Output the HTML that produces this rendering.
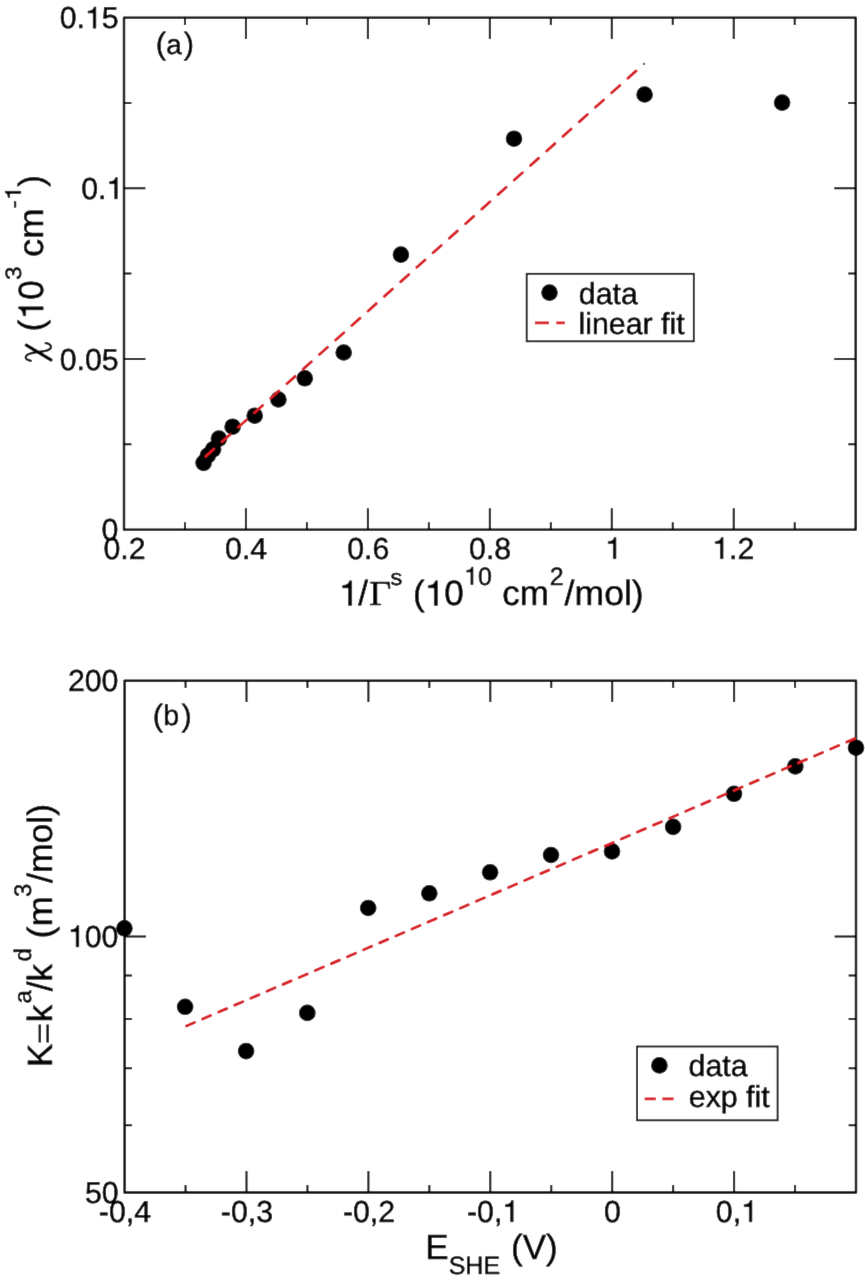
<!DOCTYPE html>
<html><head><meta charset="utf-8"><style>
html,body{margin:0;padding:0;background:#fff;width:865px;height:1280px;overflow:hidden}
svg{display:block;font-family:"Liberation Sans",sans-serif;will-change:transform;text-rendering:geometricPrecision}
text,.o1{stroke:#000;stroke-width:0.5px;stroke-linejoin:round}
</style></head><body>
<svg width="865" height="1280" viewBox="0 0 865 1280">
<defs><filter id="bl" x="0" y="0" width="100%" height="100%"><feConvolveMatrix order="3" kernelMatrix="0.0052 0.0619 0.0052 0.0619 0.7314 0.0619 0.0052 0.0619 0.0052" edgeMode="duplicate" preserveAlpha="true"/></filter></defs>
<g filter="url(#bl)">
<rect width="865" height="1280" fill="#fff"/>
<rect x="124" y="17.6" width="731.7" height="512" fill="none" stroke="#000" stroke-width="2.4" stroke-linejoin="round"/>
<rect x="124.6" y="680.7" width="731.4" height="511.8" fill="none" stroke="#000" stroke-width="2.4" stroke-linejoin="round"/>
<path d="M184.98 529.6v-7.4M184.98 17.6v7.4M245.95 529.6v-21.4M245.95 17.6v21.4M306.93 529.6v-7.4M306.93 17.6v7.4M367.9 529.6v-21.4M367.9 17.6v21.4M428.88 529.6v-7.4M428.88 17.6v7.4M489.85 529.6v-21.4M489.85 17.6v21.4M550.83 529.6v-7.4M550.83 17.6v7.4M611.8 529.6v-21.4M611.8 17.6v21.4M672.78 529.6v-7.4M672.78 17.6v7.4M733.75 529.6v-21.4M733.75 17.6v21.4M794.73 529.6v-7.4M794.73 17.6v7.4M124 444.27h7.4M855.7 444.27h-7.4M124 358.93h21.4M855.7 358.93h-21.4M124 273.6h7.4M855.7 273.6h-7.4M124 188.27h21.4M855.7 188.27h-21.4M124 102.93h7.4M855.7 102.93h-7.4M185.55 1192.5v-7.4M185.55 680.7v7.4M246.5 1192.5v-21.4M246.5 680.7v21.4M307.45 1192.5v-7.4M307.45 680.7v7.4M368.4 1192.5v-21.4M368.4 680.7v21.4M429.35 1192.5v-7.4M429.35 680.7v7.4M490.3 1192.5v-21.4M490.3 680.7v21.4M551.25 1192.5v-7.4M551.25 680.7v7.4M612.2 1192.5v-21.4M612.2 680.7v21.4M673.15 1192.5v-7.4M673.15 680.7v7.4M734.1 1192.5v-21.4M734.1 680.7v21.4M795.05 1192.5v-7.4M795.05 680.7v7.4M124.6 1125.19h7.4M856 1125.19h-7.4M124.6 1068.28h7.4M856 1068.28h-7.4M124.6 1018.98h7.4M856 1018.98h-7.4M124.6 975.5h7.4M856 975.5h-7.4M124.6 936.6h21.4M856 936.6h-21.4" stroke="#000" stroke-width="2.0" fill="none"/>
<g fill="#000"><circle cx="203.6" cy="462.9" r="8.3"/><circle cx="207.8" cy="455.5" r="8.3"/><circle cx="213.1" cy="449.3" r="8.3"/><circle cx="218.9" cy="438.6" r="8.3"/><circle cx="232.6" cy="426.7" r="8.3"/><circle cx="254.7" cy="415.7" r="8.3"/><circle cx="278.4" cy="399.5" r="8.3"/><circle cx="304.8" cy="378.3" r="8.3"/><circle cx="343.7" cy="352.5" r="8.3"/><circle cx="400.9" cy="254.6" r="8.3"/><circle cx="514" cy="138.7" r="8.3"/><circle cx="644.6" cy="94.5" r="8.3"/><circle cx="782.1" cy="102.6" r="8.3"/></g>
<path d="M203.6 458.3L643.9 63.9" stroke="#d81a22" stroke-width="2.8" stroke-linecap="round" stroke-dasharray="11 10.8" stroke-dashoffset="18.95" fill="none"/>
<circle cx="644.1" cy="63.9" r="1.1" fill="#6a2a2a"/>
<g fill="#000"><circle cx="124.4" cy="928.3" r="8.3"/><circle cx="185.1" cy="1006.8" r="8.3"/><circle cx="246.1" cy="1051.1" r="8.3"/><circle cx="307.3" cy="1012.9" r="8.3"/><circle cx="368.2" cy="908" r="8.3"/><circle cx="429.3" cy="893.3" r="8.3"/><circle cx="490.1" cy="872.3" r="8.3"/><circle cx="551" cy="855" r="8.3"/><circle cx="612" cy="851.4" r="8.3"/><circle cx="673.1" cy="826.9" r="8.3"/><circle cx="734" cy="793.8" r="8.3"/><circle cx="795.3" cy="766.4" r="8.3"/><circle cx="856" cy="747.7" r="8.3"/></g>
<path d="M185.3 1026.4L856 738.1" stroke="#d81a22" stroke-width="2.8" stroke-linecap="round" stroke-dasharray="8.8 8.73" stroke-dashoffset="16.3" fill="none"/>
<rect x="526.7" y="273.8" width="167.1" height="67.5" fill="#fff" stroke="#000" stroke-width="1.8"/>
<circle cx="549.5" cy="292.6" r="8.3"/>
<path d="M534.9 322.9H548.9M556.3 322.9H564.8" stroke="#d81a22" stroke-width="2.7"/>
<rect x="637.1" y="1046.5" width="140.5" height="73.8" fill="#fff" stroke="#000" stroke-width="1.8"/>
<circle cx="659.4" cy="1065.4" r="8.3"/>
<path d="M644.7 1098.8H655.9M662.4 1098.8H673.6" stroke="#d81a22" stroke-width="2.7"/>
<text transform="translate(101.54,540.2) scale(1.0,1)" font-size="30.3">0</text>
<text transform="translate(59.73,369.53) scale(1.0,1)" font-size="30.3">0.05</text>
<text transform="translate(81.15,198.87) scale(1.0,1)" font-size="30.3">0.<tspan visibility="hidden">1</tspan></text>
<text transform="translate(59.73,28.2) scale(1.0,1)" font-size="30.3">0.<tspan visibility="hidden">1</tspan>5</text>
<text transform="translate(103.39,558.7) scale(1.0,1)" font-size="30.3">0.2</text>
<text transform="translate(225.04,558.7) scale(1.0,1)" font-size="30.3">0.4</text>
<text transform="translate(347.14,558.7) scale(1.0,1)" font-size="30.3">0.6</text>
<text transform="translate(469.09,558.7) scale(1.0,1)" font-size="30.3">0.8</text>
<text transform="translate(605.13,558.7) scale(1.0,1)" font-size="30.3"><tspan visibility="hidden">1</tspan></text>
<text transform="translate(712.22,558.7) scale(1.0,1)" font-size="30.3"><tspan visibility="hidden">1</tspan>.2</text>
<text transform="translate(84.88,1202.8) scale(1.0,1)" font-size="30.3">50</text>
<text transform="translate(67.91,946.9) scale(1.0,1)" font-size="30.3"><tspan visibility="hidden">1</tspan>00</text>
<text transform="translate(67.91,691) scale(1.0,1)" font-size="30.3">200</text>
<text transform="translate(98.79,1221.8) scale(1.0,1)" font-size="30.3">-0,4</text>
<text transform="translate(220.84,1221.8) scale(1.0,1)" font-size="30.3">-0,3</text>
<text transform="translate(342.89,1221.8) scale(1.0,1)" font-size="30.3">-0,2</text>
<text transform="translate(466.98,1221.8) scale(1.0,1)" font-size="30.3">-0,<tspan visibility="hidden">1</tspan></text>
<text transform="translate(604.12,1221.8) scale(1.0,1)" font-size="30.3">0</text>
<text transform="translate(715.82,1221.8) scale(1.0,1)" font-size="30.3">0,<tspan visibility="hidden">1</tspan></text>
<text transform="translate(155.75,54.1) scale(1.0,1)" font-size="30.8">(</text>
<text transform="translate(166.19,53.8) scale(1.0,1)" font-size="27.8">a</text>
<text transform="translate(183.79,54.1) scale(1.0,1)" font-size="30.8">)</text>
<text transform="translate(152.85,725.6) scale(1.0,1)" font-size="30.8">(</text>
<text transform="translate(163.2,725.2) scale(1.0,1)" font-size="28.5">b</text>
<text transform="translate(181.49,725.6) scale(1.0,1)" font-size="30.8">)</text>
<text transform="translate(578.79,303.6) scale(1.0,1)" font-size="30.3">data</text>
<text transform="translate(578.48,333.6) scale(1.0,1)" font-size="30.3">linear fit</text>
<text transform="translate(688.59,1075.8) scale(1.0,1)" font-size="30.3">data</text>
<text transform="translate(688.79,1106.7) scale(1.0,1)" font-size="30.3">exp fit</text>
<text transform="translate(339.06,605.4) scale(1,1)" font-size="35"><tspan visibility="hidden">1</tspan></text>
<text transform="translate(358.3,605.4) scale(1,1)" font-size="35">/</text>
<text transform="translate(368.95,605.4) scale(1.1,1)" font-size="35" font-family="Liberation Serif" stroke="#000" stroke-width="0.5">Γ</text>
<text transform="translate(390.49,584.6) scale(1.05,1)" font-size="22.5">s</text>
<text transform="translate(412.9,605.4) scale(1,1)" font-size="35">(</text>
<text transform="translate(424.86,605.4) scale(1,1)" font-size="35"><tspan visibility="hidden">1</tspan>0</text>
<text transform="translate(464.08,584.6) scale(1,1)" font-size="25"><tspan visibility="hidden">1</tspan>0</text>
<text transform="translate(502.2,605.4) scale(1,1)" font-size="35">cm</text>
<text transform="translate(549.75,584.6) scale(1,1)" font-size="25">2</text>
<text transform="translate(564.6,605.4) scale(1.017,1)" font-size="35">/mol)</text>
<text transform="translate(43.2,331.4) rotate(-90) scale(1,1)" font-size="35">(</text>
<text transform="translate(43.2,319.34) rotate(-90) scale(1,1)" font-size="35"><tspan visibility="hidden">1</tspan>0</text>
<text transform="translate(20.9,280.08) rotate(-90) scale(1.1,1)" font-size="22.3">3</text>
<text transform="translate(43.2,257.06) rotate(-90) scale(1.04,1)" font-size="35">cm</text>
<text transform="translate(20.8,208.28) rotate(-90) scale(1.1,1)" font-size="22.3">-<tspan visibility="hidden">1</tspan></text>
<text transform="translate(43.2,186.85) rotate(-90) scale(1,1)" font-size="35">)</text>
<text transform="translate(425.2,1259.4) scale(1,1)" font-size="35">E</text>
<text transform="translate(448.65,1273.8) scale(1,1)" font-size="25">SHE</text>
<text transform="translate(511,1259.4) scale(1,1)" font-size="35">(V)</text>
<text transform="translate(52.4,1067) rotate(-90) scale(1,1)" font-size="35">K</text>
<text transform="translate(52.4,1022.35) rotate(-90) scale(1,1)" font-size="35">k</text>
<text transform="translate(31,1003.46) rotate(-90) scale(1,1)" font-size="24">a</text>
<text transform="translate(52.4,991.3) rotate(-90) scale(1,1)" font-size="35">/k</text>
<text transform="translate(31,961.56) rotate(-90) scale(1,1)" font-size="24">d</text>
<text transform="translate(52.4,938.47) rotate(-90) scale(1.035,1)" font-size="35">(m</text>
<text transform="translate(31,896.96) rotate(-90) scale(1,1)" font-size="24">3</text>
<text transform="translate(52.4,883) rotate(-90) scale(1.017,1)" font-size="35">/mol)</text>
<path class="o1" vector-effect="non-scaling-stroke" transform="translate(81.15,198.87) scale(1.0,1) translate(25.27,0) scale(0.03030,-0.03030)" d="M359 0L359 703L300 703C283 640 255 580 101 568L101 500L271 500L271 0Z"/>
<path class="o1" vector-effect="non-scaling-stroke" transform="translate(59.73,28.2) scale(1.0,1) translate(25.27,0) scale(0.03030,-0.03030)" d="M359 0L359 703L300 703C283 640 255 580 101 568L101 500L271 500L271 0Z"/>
<path class="o1" vector-effect="non-scaling-stroke" transform="translate(605.13,558.7) scale(1.0,1) translate(0,0) scale(0.03030,-0.03030)" d="M359 0L359 703L300 703C283 640 255 580 101 568L101 500L271 500L271 0Z"/>
<path class="o1" vector-effect="non-scaling-stroke" transform="translate(712.22,558.7) scale(1.0,1) translate(0,0) scale(0.03030,-0.03030)" d="M359 0L359 703L300 703C283 640 255 580 101 568L101 500L271 500L271 0Z"/>
<path class="o1" vector-effect="non-scaling-stroke" transform="translate(67.91,946.9) scale(1.0,1) translate(0,0) scale(0.03030,-0.03030)" d="M359 0L359 703L300 703C283 640 255 580 101 568L101 500L271 500L271 0Z"/>
<path class="o1" vector-effect="non-scaling-stroke" transform="translate(466.98,1221.8) scale(1.0,1) translate(35.36,0) scale(0.03030,-0.03030)" d="M359 0L359 703L300 703C283 640 255 580 101 568L101 500L271 500L271 0Z"/>
<path class="o1" vector-effect="non-scaling-stroke" transform="translate(715.82,1221.8) scale(1.0,1) translate(25.27,0) scale(0.03030,-0.03030)" d="M359 0L359 703L300 703C283 640 255 580 101 568L101 500L271 500L271 0Z"/>
<path class="o1" vector-effect="non-scaling-stroke" transform="translate(339.06,605.4) scale(1,1) translate(0,0) scale(0.03500,-0.03500)" d="M359 0L359 703L300 703C283 640 255 580 101 568L101 500L271 500L271 0Z"/>
<path class="o1" vector-effect="non-scaling-stroke" transform="translate(424.86,605.4) scale(1,1) translate(0,0) scale(0.03500,-0.03500)" d="M359 0L359 703L300 703C283 640 255 580 101 568L101 500L271 500L271 0Z"/>
<path class="o1" vector-effect="non-scaling-stroke" transform="translate(464.08,584.6) scale(1,1) translate(0,0) scale(0.02500,-0.02500)" d="M359 0L359 703L300 703C283 640 255 580 101 568L101 500L271 500L271 0Z"/>
<path class="o1" vector-effect="non-scaling-stroke" transform="translate(43.2,319.34) rotate(-90) scale(1,1) translate(0,0) scale(0.03500,-0.03500)" d="M359 0L359 703L300 703C283 640 255 580 101 568L101 500L271 500L271 0Z"/>
<path class="o1" vector-effect="non-scaling-stroke" transform="translate(20.8,208.28) rotate(-90) scale(1.1,1) translate(7.43,0) scale(0.02230,-0.02230)" d="M359 0L359 703L300 703C283 640 255 580 101 568L101 500L271 500L271 0Z"/>
<path d="M38.6 1024.5h2.4v18h-2.4zM46.4 1024.5h2.4v18h-2.4z"/>
<path d="M26.3 345.2L50.9 359.8" stroke="#000" stroke-width="3.3" stroke-linecap="round" fill="none"/>
<path d="M30.8 360.8C27 360 25 358.5 25.8 356.6C27 354 31 353 36.9 352.2C43 351.4 50.5 350.5 51 347.3C51.3 345.2 48.5 343.3 45.6 343.1" stroke="#000" stroke-width="2.2" stroke-linecap="round" fill="none"/>
</g>
</svg>
</body></html>
